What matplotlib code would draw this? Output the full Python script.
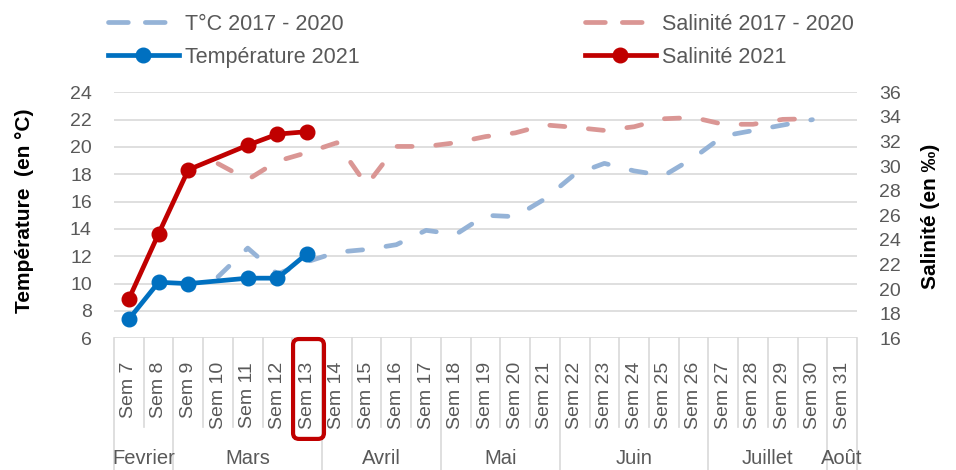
import numpy as np
import matplotlib
matplotlib.use('Agg')
import matplotlib.pyplot as plt
from matplotlib.lines import Line2D
from matplotlib.patches import FancyBboxPatch

plt.rcParams['font.family'] = ['Liberation Sans', 'DejaVu Sans']

##-------------------- data --------------------
weeks = ['Sem %d' % w for w in range(7, 32)]
months = ['Fevrier', 'Mars', 'Avril', 'Mai', 'Juin', 'Juillet', 'Août']
month_weeks = [2, 5, 4, 4, 5, 4, 1]     # number of weeks in each month group

nan = np.nan
temp_2021 = [7.4, 10.1, 10.0, nan, 10.4, 10.4, 12.2] + [nan] * 18
sal_2021 = [19.2, 24.5, 29.7, nan, 31.7, 32.6, 32.8] + [nan] * 18
temp_ref = [nan, nan, nan, 10.5, 12.6, 10.7, 11.6, 12.3, 12.5, 12.85, 13.9, 13.6,
            15.0, 14.9, 16.2, 18.0, 18.8, 18.25, 17.9, 19.2, 20.8, 21.2, 21.6, 22.0, nan]
sal_ref = [nan, nan, nan, 30.2, 28.9, 30.4, 31.1, 31.9, 28.45, 31.6, 31.6, 31.9,
           32.4, 32.7, 33.35, 33.15, 32.9, 33.2, 33.85, 33.95, 33.4, 33.4, 33.8, 33.85, nan]

temp_ticks = np.arange(6, 25, 2)
sal_ticks = np.arange(16, 37, 2)
highlight_week = 'Sem 13'

##-------------------- style --------------------
c_temp = '#0070c0'
c_sal = '#c00000'
c_temp_ref = '#95b3d7'
c_sal_ref = '#da9694'
c_grid = '#d9d9d9'
c_text = '#595959'
lw = 3.4
ms = 10.5
dash = (3.2, 5.0)

W, H = 956, 470
fig = plt.figure(figsize=(W / 100, H / 100), dpi=100)
ax = fig.add_axes([114 / W, 1 - 338.3 / H, (857 - 114) / W, (338.3 - 92.3) / H])
ax2 = ax.twinx()

x = np.arange(len(weeks))

def solid(a, vals, col):
    v = np.array(vals, dtype=float)
    m = np.isfinite(v)
    a.plot(x[m], v[m], color=col, lw=lw, marker='o', ms=ms,
           solid_joinstyle='round', solid_capstyle='round', zorder=4)

def dashed(a, vals, col):
    v = np.array(vals, dtype=float)
    a.plot(x, v, color=col, lw=lw, ls=(0, dash), dash_capstyle='round',
           dash_joinstyle='round', zorder=3)

dashed(ax, temp_ref, c_temp_ref)
solid(ax, temp_2021, c_temp)
dashed(ax2, sal_ref, c_sal_ref)
solid(ax2, sal_2021, c_sal)

ax.set_xlim(-0.5, len(weeks) - 0.5)
ax.set_ylim(6, 24)
ax2.set_ylim(16, 36)
ax.set_yticks(temp_ticks)
ax2.set_yticks(sal_ticks)
ax.yaxis.grid(True, color=c_grid, lw=1.2)
ax.set_axisbelow(True)
for a in (ax, ax2):
    for s in a.spines.values():
        s.set_visible(False)
ax.tick_params(axis='y', length=0, pad=16, labelsize=14, labelcolor=c_text)
ax2.tick_params(axis='y', length=0, pad=16, labelsize=14, labelcolor=c_text)

ax.set_xticks(x)
ax.set_xticklabels(weeks, rotation=90, va='top', ha='center')
ax.tick_params(axis='x', length=0, pad=17, labelsize=14, labelcolor=c_text)

## category separators and month groups
tr = ax.get_xaxis_transform()
bounds = np.concatenate([[0], np.cumsum(month_weeks)]) - 0.5
for k in range(len(weeks) + 1):
    xb = k - 0.5
    long = np.any(np.isclose(bounds, xb))
    ax.add_line(Line2D([xb, xb], [0, -0.537 if long else -0.362], transform=tr,
                       color=c_grid, lw=1.2, clip_on=False))
for i, m in enumerate(months):
    xc = (bounds[i] + bounds[i + 1]) / 2
    ax.text(xc, -0.49, m, transform=tr, ha='center', va='center',
            fontsize=14.5, color=c_text)

## highlight box round current week
hi = weeks.index(highlight_week)
box = FancyBboxPatch((hi - 0.475, -0.409), 1.04, 0.406, transform=tr,
                     boxstyle='round,pad=0,rounding_size=0.2', mutation_aspect=0.12,
                     fill=False, ec=c_sal, lw=3, clip_on=False, zorder=5)
ax.add_patch(box)

## axis titles
fig.text(25 / W, 1 - 211 / H, 'Température  (en °C)', rotation=90, ha='center',
         va='center', fontsize=15, fontweight='bold')
fig.text(930 / W, 1 - 216 / H, 'Salinité (en ‰)', rotation=90, ha='center',
         va='center', fontsize=15, fontweight='bold')

## legend
handles = [
    Line2D([], [], color=c_temp_ref, lw=lw, ls=(0, (4.2, 3.6)), dash_capstyle='round'),
    Line2D([], [], color=c_temp, lw=lw, marker='o', ms=ms),
    Line2D([], [], color=c_sal_ref, lw=lw, ls=(0, (4.2, 3.6)), dash_capstyle='round'),
    Line2D([], [], color=c_sal, lw=lw, marker='o', ms=ms),
]
labels = ['T°C 2017 - 2020', 'Température 2021', 'Salinité 2017 - 2020', 'Salinité 2021']
fig.legend(handles, labels, loc='upper left', bbox_to_anchor=(97 / W, 1 - 3 / H),
           ncol=2, frameon=False, borderpad=0, fontsize=15.5, handlelength=3.3,
           handletextpad=0.3, columnspacing=10.45, labelspacing=0.55, labelcolor=c_text)

fig.savefig('out.png', dpi=100)
